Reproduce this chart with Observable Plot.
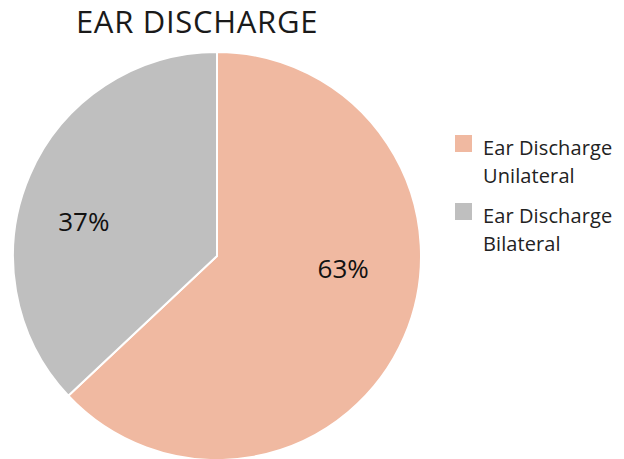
<!DOCTYPE html>
<html>
<head>
<meta charset="utf-8">
<script src="https://cdn.jsdelivr.net/npm/d3@7"></script>
<script src="https://cdn.jsdelivr.net/npm/@observablehq/plot@0.6"></script>
<style>
  html, body { margin: 0; padding: 0; background: #fff; }
  #wrap { position: relative; width: 624px; height: 459px; overflow: hidden; font-family: "Open Sans", sans-serif; }
  #title { position: absolute; left: 0; width: 394px; top: 0px; text-align: center; font-size: 31px; color: #1a1a1a; letter-spacing: 0.7px; }
  #legend { position: absolute; left: 455px; top: 133px; font-size: 20px; color: #222; }
  .item { position: relative; height: 68px; }
  .sw { position: absolute; left: 0; top: 2px; width: 17px; height: 17px; }
  .lab { position: absolute; left: 28px; top: 1px; line-height: 28px; white-space: nowrap; letter-spacing: 0.1px; }
  #chart { position: absolute; left: 0; top: 0; }
</style>
</head>
<body>
<div id="wrap">
  <div id="chart"></div>
  <div id="title"></div>
  <div id="legend"></div>
</div>
<script>
const title = "EAR DISCHARGE";
const categories = ["Ear Discharge Unilateral", "Ear Discharge Bilateral"];
const legendLines = [["Ear Discharge", "Unilateral"], ["Ear Discharge", "Bilateral"]];
const values = [63, 37];
const labels = ["63%", "37%"];
const colors = ["#F0B9A1", "#BFBFBF"];

const data = categories.map((c, i) => ({category: c, value: values[i], label: labels[i], color: colors[i]}));
const arcs = d3.pie().sort(null).value(d => d.value)(data);
const labelR = 0.65;
const labelData = arcs.map(a => {
  const m = (a.startAngle + a.endAngle) / 2;
  return {label: a.data.label, x: labelR * Math.sin(m), y: labelR * Math.cos(m)};
});

function pieMark(index, scales) {
  const cx = scales.x(0), cy = scales.y(0);
  const r = scales.x(1) - scales.x(0);
  const g = d3.create("svg:g").attr("transform", `translate(${cx},${cy})`);
  g.selectAll("path").data(arcs).join("path")
    .attr("d", d3.arc().innerRadius(0).outerRadius(r))
    .attr("fill", d => d.data.color)
    .attr("stroke", "#fff")
    .attr("stroke-width", 2)
    .attr("stroke-linejoin", "round");
  return g.node();
}

const plot = Plot.plot({
  width: 624,
  height: 459,
  margin: 0,
  x: {domain: [-1, 1], range: [13, 421], axis: null},
  y: {domain: [-1, 1], range: [460, 52], axis: null},
  style: {fontFamily: "Open Sans, sans-serif", background: "transparent"},
  marks: [
    pieMark,
    Plot.text(labelData.filter(d => d.label === "63%"), {x: "x", y: "y", text: "label", fontSize: 26, fill: "#111", dx: 4, dy: -39}),
    Plot.text(labelData.filter(d => d.label === "37%"), {x: "x", y: "y", text: "label", fontSize: 26, fill: "#111", dx: -12, dy: 19})
  ]
});
document.getElementById("chart").appendChild(plot);
document.getElementById("title").textContent = title;

const legend = d3.select("#legend");
legendLines.forEach((lines, i) => {
  const it = legend.append("div").attr("class", "item");
  it.append("div").attr("class", "sw").style("background", colors[i]);
  it.append("div").attr("class", "lab").html(lines.join("<br>"));
});
</script>
</body>
</html>
